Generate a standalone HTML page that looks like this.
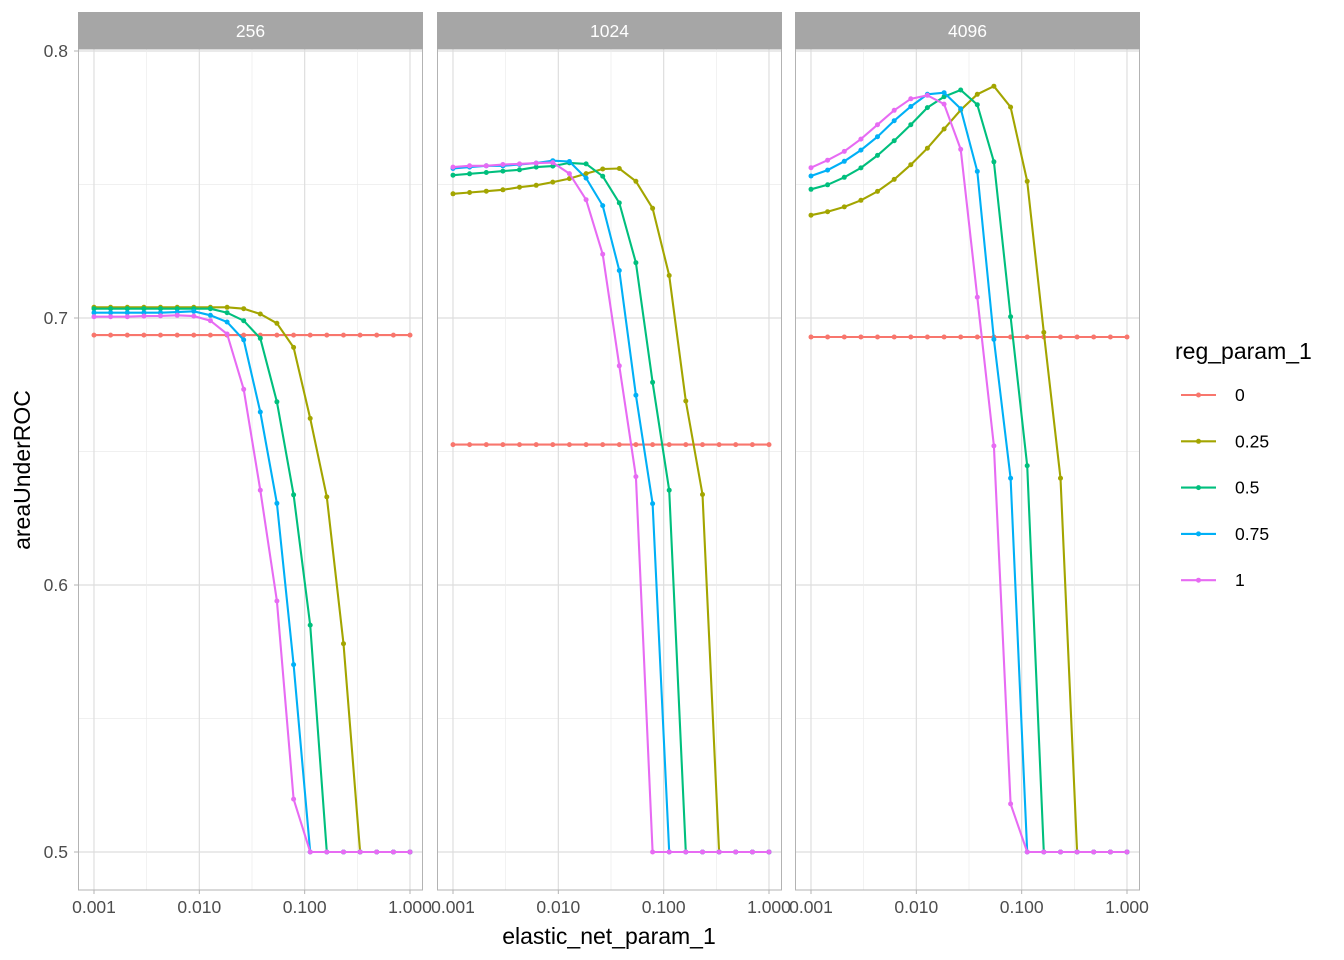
<!DOCTYPE html>
<html><head><meta charset="utf-8"><style>
body{margin:0;background:#fff;width:1344px;height:960px;overflow:hidden}
svg{display:block;font-family:"Liberation Sans",Arial,sans-serif}
</style></head><body>
<svg id="s" width="1344" height="960" xmlns="http://www.w3.org/2000/svg"></svg>
<script>
const S=document.getElementById('s');let h='';
const cols=['#F8766D','#A3A500','#00BF7D','#00B0F6','#E76BF3'];
const panels=[{x:78,t:'256'},{x:437,t:'1024'},{x:795,t:'4096'}];
const W=345,T=49,B=890;
const yv=v=>852-(v-0.5)*2670;
function fill(a,n,last){while(a.length<20)a.push(last);return a;}
const data=[
[
 fill([],20,0.6936),
 fill([0.704,0.704,0.704,0.704,0.704,0.704,0.704,0.704,0.704,0.7035,0.7015,0.698,0.689,0.6624,0.633,0.578,0.5],20,0.5),
 fill([0.7035,0.7035,0.7035,0.7035,0.7035,0.7035,0.7035,0.7035,0.702,0.699,0.6924,0.6686,0.6338,0.585,0.5],20,0.5),
 fill([0.702,0.702,0.702,0.702,0.702,0.7022,0.7025,0.701,0.6985,0.6918,0.6648,0.6306,0.5702,0.5],20,0.5),
 fill([0.7005,0.7005,0.7005,0.7007,0.7008,0.701,0.7007,0.699,0.694,0.6733,0.6355,0.594,0.5198,0.5],20,0.5)
],
[
 fill([],20,0.6526),
 fill([0.7465,0.747,0.7475,0.748,0.749,0.7497,0.7509,0.7522,0.7541,0.7558,0.756,0.7512,0.7411,0.7159,0.6689,0.6339,0.5],20,0.5),
 fill([0.7535,0.754,0.7545,0.755,0.7555,0.7565,0.7569,0.7581,0.7577,0.7531,0.7431,0.7207,0.6759,0.6355,0.5],20,0.5),
 fill([0.756,0.7565,0.757,0.757,0.7575,0.758,0.7589,0.7586,0.7524,0.7421,0.7178,0.6711,0.6305,0.5],20,0.5),
 fill([0.7565,0.757,0.757,0.7575,0.7577,0.758,0.7582,0.7541,0.7443,0.7239,0.6821,0.6406,0.5],20,0.5)
],
[
 fill([],20,0.6929),
 fill([0.7385,0.7398,0.7416,0.7441,0.7474,0.7519,0.7574,0.7636,0.7708,0.7779,0.7838,0.7868,0.779,0.7512,0.6946,0.640,0.5],20,0.5),
 fill([0.7482,0.7499,0.7527,0.7562,0.7609,0.7664,0.7724,0.7788,0.7829,0.7854,0.7799,0.7585,0.7005,0.6447,0.5],20,0.5),
 fill([0.7532,0.7554,0.7587,0.7629,0.7679,0.7739,0.7792,0.7838,0.7844,0.7784,0.7549,0.692,0.640,0.5],20,0.5),
 fill([0.7563,0.7591,0.7624,0.767,0.7724,0.7778,0.7821,0.7834,0.7801,0.7632,0.7078,0.6521,0.518,0.5],20,0.5)
]];
panels.forEach((p,pi)=>{
 const x0=p.x+16,span=316;
 h+=`<rect x="${p.x}" y="${T}" width="${W}" height="${B-T}" fill="#fff"/>`;
 [0.55,0.65,0.75].forEach(v=>h+=`<line x1="${p.x}" x2="${p.x+W}" y1="${yv(v)}" y2="${yv(v)}" stroke="#ebebeb" stroke-width="0.7"/>`);
 [0.5,0.6,0.7,0.8].forEach(v=>h+=`<line x1="${p.x}" x2="${p.x+W}" y1="${yv(v)}" y2="${yv(v)}" stroke="#dedede" stroke-width="1.2"/>`);
 [0.5,1.5,2.5].forEach(d=>{const x=x0+d*span/3;h+=`<line x1="${x}" x2="${x}" y1="${T}" y2="${B}" stroke="#ebebeb" stroke-width="0.7"/>`;});
 [0,1,2,3].forEach(d=>{const x=x0+d*span/3;h+=`<line x1="${x}" x2="${x}" y1="${T}" y2="${B}" stroke="#dedede" stroke-width="1.2"/>`;
   h+=`<line x1="${x}" x2="${x}" y1="${B}" y2="${B+4}" stroke="#b3b3b3"/>`;
   h+=`<text x="${x}" y="${B+23}" font-size="17.5" fill="#4d4d4d" text-anchor="middle">${['0.001','0.010','0.100','1.000'][d]}</text>`;});
 data[pi].forEach((ser,si)=>{
  const pts=ser.map((v,i)=>[x0+i*span/19,yv(v)]);
  h+=`<polyline points="${pts.map(q=>q[0].toFixed(1)+','+q[1].toFixed(1)).join(' ')}" fill="none" stroke="${cols[si]}" stroke-width="2.1"/>`;
  pts.forEach(q=>h+=`<circle cx="${q[0].toFixed(1)}" cy="${q[1].toFixed(1)}" r="2.5" fill="${cols[si]}"/>`);
 });
 h+=`<rect x="${p.x+0.5}" y="${T}" width="${W-1}" height="${B-T}" fill="none" stroke="#b3b3b3" stroke-width="1"/>`;
 h+=`<rect x="${p.x}" y="12" width="${W}" height="37" fill="#a6a6a6"/>`;
 h+=`<text x="${p.x+W/2}" y="37" font-size="17.5" fill="#fff" text-anchor="middle">${p.t}</text>`;
});
[['0.5',0.5],['0.6',0.6],['0.7',0.7],['0.8',0.8]].forEach(([t,v])=>{
 h+=`<line x1="74" x2="78" y1="${yv(v)}" y2="${yv(v)}" stroke="#b3b3b3"/>`;
 h+=`<text x="68" y="${yv(v)+6}" font-size="17.5" fill="#4d4d4d" text-anchor="end">${t}</text>`;});
h+=`<text x="609" y="944" font-size="23" fill="#000" text-anchor="middle">elastic_net_param_1</text>`;
h+=`<text transform="translate(30,470) rotate(-90)" font-size="23" fill="#000" text-anchor="middle">areaUnderROC</text>`;
h+=`<text x="1175" y="359" font-size="23" fill="#000">reg_param_1</text>`;
['0','0.25','0.5','0.75','1'].forEach((t,i)=>{const y=395+i*46.3;
 h+=`<line x1="1181" x2="1216" y1="${y}" y2="${y}" stroke="${cols[i]}" stroke-width="2.1"/><circle cx="1198.5" cy="${y}" r="2.5" fill="${cols[i]}"/>`;
 h+=`<text x="1235" y="${y+6}" font-size="17.5" fill="#000">${t}</text>`;});
S.innerHTML=h;
</script>
</body></html>
